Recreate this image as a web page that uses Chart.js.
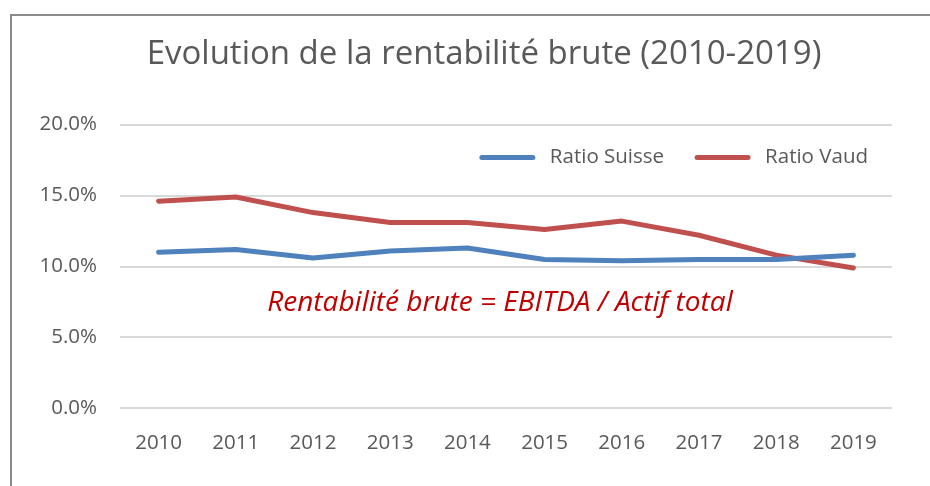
<!DOCTYPE html>
<html>
<head>
<meta charset="utf-8">
<script src="https://cdn.jsdelivr.net/npm/chart.js@4/dist/chart.umd.min.js"></script>
<style>
  html, body { margin: 0; padding: 0; background: #ffffff; overflow: hidden; }
  #wrap { position: relative; width: 930px; height: 486px; }
  #frame { position: absolute; left: 10px; top: 14px; width: 1000px; height: 1000px;
           border-left: 2px solid #8a8a8a; border-top: 2px solid #8a8a8a; pointer-events: none; }
  canvas { position: absolute; left: 0; top: 0; }
</style>
</head>
<body>
<div id="wrap">
  <canvas id="c" width="930" height="486"></canvas>
  <div id="frame"></div>
</div>
<script>
const titleText = 'Evolution de la rentabilité brute (2010-2019)';
const annotationText = 'Rentabilité brute = EBITDA / Actif total';
const annotationValue = 7.4;
const years = ['2010','2011','2012','2013','2014','2015','2016','2017','2018','2019'];
const seriesNames = ['Ratio Suisse', 'Ratio Vaud'];
const suisse = [11.0, 11.2, 10.6, 11.1, 11.3, 10.5, 10.4, 10.5, 10.5, 10.8];
const vaud = [14.6, 14.9, 13.8, 13.1, 13.1, 12.6, 13.2, 12.2, 10.8, 9.9];
const yTicks = [0, 5, 10, 15, 20];

const FONT = '"Open Sans", Lato, sans-serif';

// The original chart frame extends beyond the visible crop; centre the title on it.
const titleShiftPlugin = {
  id: 'titleShift',
  afterLayout(chart) {
    if (chart.titleBlock) { chart.titleBlock.left += 76; }
  }
};

const annotationPlugin = {
  id: 'annotationText',
  afterDatasetsDraw(chart) {
    const { ctx, chartArea, scales } = chart;
    const x = (chartArea.left + chartArea.right) / 2 - 6;
    const y = scales.y.getPixelForValue(annotationValue);
    ctx.save();
    ctx.font = 'italic 28px ' + FONT;
    ctx.fillStyle = '#C00000';
    ctx.textAlign = 'center';
    ctx.textBaseline = 'middle';
    ctx.fillText(annotationText, x, y);
    ctx.restore();
  }
};

const insideLegendPlugin = {
  id: 'insideLegend',
  afterDatasetsDraw(chart) {
    const { ctx, chartArea } = chart;
    const lineLen = 55, textGap = 15, itemGap = 31;
    const y = chartArea.top + 33;
    ctx.save();
    ctx.font = '20.5px ' + FONT;
    const items = chart.data.datasets.map(ds => ({
      ds, w: lineLen + textGap + ctx.measureText(ds.label).width
    }));
    let total = items.reduce((s, it) => s + it.w, 0) + itemGap * (items.length - 1);
    let x = chartArea.right - 24 - total;
    items.forEach(it => {
      ctx.strokeStyle = it.ds.borderColor;
      ctx.lineWidth = 5;
      ctx.lineCap = 'round';
      ctx.beginPath();
      ctx.moveTo(x + 2, y);
      ctx.lineTo(x + lineLen - 2, y);
      ctx.stroke();
      ctx.fillStyle = '#595959';
      ctx.textAlign = 'left';
      ctx.textBaseline = 'middle';
      ctx.fillText(it.ds.label, x + lineLen + textGap, y);
      x += it.w + itemGap;
    });
    ctx.restore();
  }
};

new Chart(document.getElementById('c'), {
  type: 'line',
  data: {
    labels: years,
    datasets: [
      { label: seriesNames[0], data: suisse, borderColor: '#4F81BD', backgroundColor: '#4F81BD',
        borderWidth: 5, pointRadius: 0, tension: 0, borderCapStyle: 'round', borderJoinStyle: 'round' },
      { label: seriesNames[1], data: vaud, borderColor: '#C0504D', backgroundColor: '#C0504D',
        borderWidth: 5, pointRadius: 0, tension: 0, borderCapStyle: 'round', borderJoinStyle: 'round' }
    ]
  },
  options: {
    responsive: false,
    animation: false,
    layout: { padding: { left: 0, right: 38, top: 0, bottom: 9 } },
    plugins: {
      title: {
        display: true, text: titleText, color: '#595959',
        font: { family: FONT, size: 33, weight: 'normal', lineHeight: 1.2 },
        padding: { top: 35, bottom: 50 }
      },
      legend: { display: false },
      tooltip: { enabled: false }
    },
    scales: {
      x: {
        offset: true,
        grid: { display: false, drawTicks: false },
        border: { display: false },
        ticks: { color: '#595959', font: { family: FONT, size: 20.5 }, padding: 22 }
      },
      y: {
        min: 0, max: 20,
        afterBuildTicks(scale) { scale.ticks = yTicks.map(v => ({ value: v })); },
        afterFit(scale) { scale.width = 120; },
        grid: { color: '#D9D9D9', lineWidth: 2, drawTicks: false },
        border: { display: false },
        ticks: { color: '#595959', font: { family: FONT, size: 20.5 }, padding: 23,
                 callback: v => v.toFixed(1) + '%' }
      }
    }
  },
  plugins: [titleShiftPlugin, annotationPlugin, insideLegendPlugin]
});
</script>
</body>
</html>
